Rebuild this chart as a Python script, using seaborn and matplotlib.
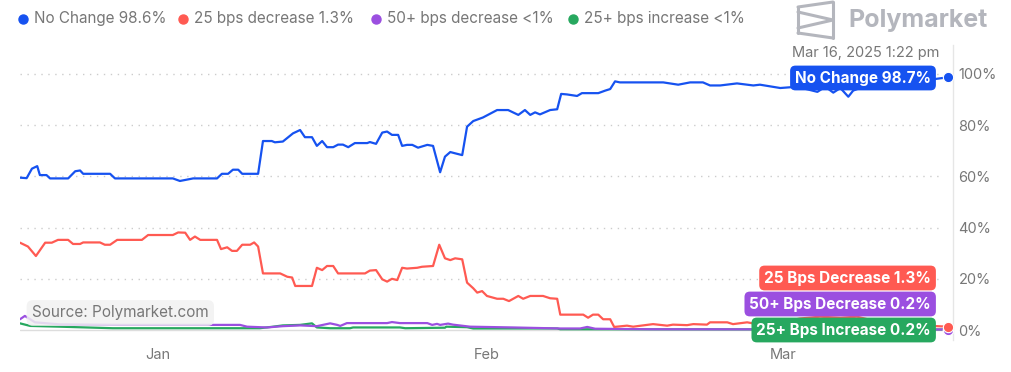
import pandas as pd
import numpy as np
import matplotlib
matplotlib.use('Agg')
import matplotlib.pyplot as plt
import matplotlib.dates as mdates
from matplotlib.lines import Line2D
import seaborn as sns

# --- данные ---
no_change_dates = [
    "2024-12-19 00:00", "2024-12-19 15:00", "2024-12-20 03:00", "2024-12-20 15:00", "2024-12-20 21:00",
    "2024-12-21 12:00", "2024-12-21 20:00", "2024-12-23 13:00", "2024-12-24 05:00", "2024-12-24 16:00",
    "2024-12-24 23:00", "2024-12-27 12:00", "2024-12-27 23:00", "2025-01-02 10:00", "2025-01-03 02:00",
    "2025-01-04 08:00", "2025-01-06 14:00", "2025-01-07 01:00", "2025-01-07 15:00", "2025-01-08 02:00",
    "2025-01-08 14:00", "2025-01-08 23:00", "2025-01-10 11:00", "2025-01-10 22:00", "2025-01-11 18:00",
    "2025-01-12 01:00", "2025-01-12 19:00", "2025-01-13 18:00", "2025-01-14 10:00", "2025-01-14 21:00",
    "2025-01-15 13:00", "2025-01-16 00:00", "2025-01-16 12:00", "2025-01-16 23:00", "2025-01-17 13:00",
    "2025-01-18 00:00", "2025-01-18 11:00", "2025-01-18 23:00", "2025-01-19 14:00", "2025-01-20 18:00",
    "2025-01-21 00:00", "2025-01-21 14:00", "2025-01-22 04:00", "2025-01-22 15:00", "2025-01-23 02:00",
    "2025-01-23 16:00", "2025-01-24 01:00", "2025-01-24 12:00", "2025-01-25 00:00", "2025-01-25 13:00",
    "2025-01-26 10:00", "2025-01-26 23:00", "2025-01-27 15:00", "2025-01-28 02:00", "2025-01-28 14:00",
    "2025-01-29 01:00", "2025-01-29 17:00", "2025-01-30 04:00", "2025-01-30 18:00", "2025-01-31 16:00",
    "2025-02-02 00:00", "2025-02-03 01:00", "2025-02-04 00:00", "2025-02-04 15:00", "2025-02-05 03:00",
    "2025-02-05 14:00", "2025-02-06 01:00", "2025-02-07 00:00", "2025-02-07 16:00", "2025-02-08 01:00",
    "2025-02-08 14:00", "2025-02-09 13:00", "2025-02-10 00:00", "2025-02-11 13:00", "2025-02-12 05:00",
    "2025-02-12 16:00", "2025-02-13 03:00", "2025-02-13 14:00", "2025-02-17 16:00", "2025-02-19 02:00",
    "2025-02-20 05:00", "2025-02-21 10:00", "2025-02-22 02:00", "2025-02-23 01:00", "2025-02-24 15:00",
    "2025-02-26 04:00", "2025-02-26 19:00", "2025-02-28 17:00", "2025-03-02 07:00", "2025-03-04 05:00",
    "2025-03-04 23:00", "2025-03-05 17:00", "2025-03-06 09:00", "2025-03-07 03:00", "2025-03-07 14:00",
    "2025-03-09 05:00", "2025-03-12 00:00", "2025-03-14 09:00", "2025-03-16 13:00",
]
no_change = [
    59.5, 59.3, 63.0, 64.0, 60.5, 60.5, 59.2, 59.2, 62.0, 62.3,
    61.0, 61.0, 59.2, 59.2, 58.2, 59.2, 59.2, 61.0, 61.0, 62.6,
    62.6, 61.0, 61.0, 73.8, 73.8, 73.3, 73.6, 76.8, 78.1, 75.3,
    75.3, 71.9, 73.8, 71.4, 71.4, 72.4, 72.4, 71.4, 73.0, 73.0,
    73.4, 72.7, 77.1, 77.5, 76.2, 76.2, 71.9, 72.3, 72.3, 71.2,
    72.3, 71.9, 61.6, 67.7, 69.5, 69.0, 68.3, 79.4, 81.6, 83.0,
    85.9, 85.9, 84.0, 85.9, 84.0, 85.0, 84.2, 85.9, 86.2, 92.2,
    92.0, 91.4, 92.5, 92.5, 93.5, 94.1, 97.1, 96.7, 96.7, 95.8,
    96.7, 96.7, 95.5, 95.5, 96.3, 95.5, 95.8, 94.5, 95.0, 93.0,
    95.0, 92.7, 94.5, 91.1, 93.5, 96.0, 97.0, 97.5, 98.7,
]

dec25_dates = [
    "2024-12-19 00:00", "2024-12-19 18:00", "2024-12-20 12:00", "2024-12-21 09:00", "2024-12-22 00:00",
    "2024-12-22 14:00", "2024-12-23 13:00", "2024-12-24 00:00", "2024-12-24 16:00", "2024-12-24 23:00",
    "2024-12-26 13:00", "2024-12-27 00:00", "2024-12-27 12:00", "2024-12-28 04:00", "2024-12-30 12:00",
    "2024-12-31 02:00", "2025-01-02 10:00", "2025-01-02 22:00", "2025-01-03 14:00", "2025-01-04 01:00",
    "2025-01-04 12:00", "2025-01-05 00:00", "2025-01-06 14:00", "2025-01-06 23:00", "2025-01-07 13:00",
    "2025-01-08 00:00", "2025-01-08 11:00", "2025-01-08 23:00", "2025-01-09 17:00", "2025-01-10 02:00",
    "2025-01-10 11:00", "2025-01-10 22:00", "2025-01-12 13:00", "2025-01-13 05:00", "2025-01-13 16:00",
    "2025-01-13 23:00", "2025-01-15 13:00", "2025-01-16 00:00", "2025-01-16 12:00", "2025-01-16 23:00",
    "2025-01-17 13:00", "2025-01-18 00:00", "2025-01-20 13:00", "2025-01-21 00:00", "2025-01-21 14:00",
    "2025-01-22 04:00", "2025-01-22 15:00", "2025-01-23 02:00", "2025-01-23 14:00", "2025-01-24 01:00",
    "2025-01-24 12:00", "2025-01-25 11:00", "2025-01-25 22:00", "2025-01-26 23:00", "2025-01-27 13:00",
    "2025-01-28 02:00", "2025-01-28 14:00", "2025-01-29 01:00", "2025-01-29 17:00", "2025-01-30 04:00",
    "2025-01-30 18:00", "2025-01-31 03:00", "2025-01-31 14:00", "2025-02-01 01:00", "2025-02-02 00:00",
    "2025-02-02 14:00", "2025-02-03 03:00", "2025-02-04 00:00", "2025-02-04 11:00", "2025-02-05 03:00",
    "2025-02-06 08:00", "2025-02-07 00:00", "2025-02-07 16:00", "2025-02-07 23:00", "2025-02-10 03:00",
    "2025-02-10 14:00", "2025-02-11 01:00", "2025-02-11 13:00", "2025-02-12 00:00", "2025-02-12 16:00",
    "2025-02-13 01:00", "2025-02-14 06:00", "2025-02-14 20:00", "2025-02-16 17:00", "2025-02-18 01:00",
    "2025-02-18 14:00", "2025-02-19 22:00", "2025-02-20 12:00", "2025-02-21 19:00", "2025-02-22 02:00",
    "2025-02-23 17:00", "2025-02-24 06:00", "2025-02-25 14:00", "2025-02-26 13:00", "2025-02-28 17:00",
    "2025-03-02 14:00", "2025-03-04 11:00", "2025-03-06 09:00", "2025-03-07 23:00", "2025-03-10 03:00",
    "2025-03-12 23:00", "2025-03-16 13:00",
]
dec25 = [
    34.1, 32.6, 28.9, 34.1, 34.1, 35.2, 35.2, 33.6, 33.6, 34.2,
    34.2, 33.3, 33.3, 35.2, 35.2, 37.1, 37.1, 38.1, 38.0, 35.2,
    36.5, 35.2, 35.2, 31.6, 32.3, 30.9, 30.9, 33.3, 33.3, 34.2,
    32.6, 22.1, 22.1, 20.8, 20.5, 17.2, 17.2, 24.3, 23.4, 25.0,
    25.0, 22.1, 22.1, 23.2, 23.4, 19.8, 18.9, 20.0, 19.5, 24.3,
    24.0, 24.3, 24.7, 25.0, 33.3, 28.0, 27.3, 28.0, 27.6, 18.5,
    16.3, 14.6, 15.2, 13.3, 12.2, 12.2, 11.3, 13.3, 12.2, 13.3,
    13.3, 12.4, 12.2, 6.0, 6.0, 4.8, 6.0, 6.0, 4.2, 4.2,
    1.2, 1.7, 1.3, 2.3, 1.7, 2.1, 1.9, 2.3, 2.1, 3.0,
    3.0, 2.3, 3.0, 2.3, 3.0, 4.5, 5.2, 4.8, 5.2, 3.0,
    2.0, 1.3,
]

dec50_dates = [
    "2024-12-19 00:00", "2024-12-19 11:00", "2024-12-20 10:00", "2024-12-22 18:00", "2024-12-28 10:00",
    "2025-01-03 02:00", "2025-01-08 18:00", "2025-01-09 10:00", "2025-01-11 07:00", "2025-01-12 19:00",
    "2025-01-14 10:00", "2025-01-16 00:00", "2025-01-17 06:00", "2025-01-17 22:00", "2025-01-18 05:00",
    "2025-01-18 20:00", "2025-01-22 15:00", "2025-01-23 02:00", "2025-01-23 20:00", "2025-01-26 10:00",
    "2025-01-26 21:00", "2025-01-27 08:00", "2025-01-27 15:00", "2025-01-28 09:00", "2025-01-28 20:00",
    "2025-01-30 11:00", "2025-02-03 12:00", "2025-02-07 23:00", "2025-02-09 20:00", "2025-02-10 12:00",
    "2025-02-11 06:00", "2025-02-16 10:00", "2025-03-16 13:00",
]
dec50 = [
    4.2, 5.5, 3.0, 2.2, 2.0, 2.0, 2.0, 1.3, 1.0, 1.5,
    1.8, 1.5, 2.6, 2.0, 1.6, 2.7, 2.7, 3.1, 2.7, 2.7,
    2.0, 2.4, 2.0, 2.5, 2.1, 1.3, 1.0, 0.6, 0.6, 1.2,
    0.5, 0.3, 0.2,
]

inc25_dates = [
    "2024-12-19 00:00", "2024-12-19 23:00", "2024-12-22 18:00", "2024-12-27 18:00", "2025-01-10 15:00",
    "2025-01-11 21:00", "2025-01-12 19:00", "2025-01-14 10:00", "2025-01-15 13:00", "2025-01-16 00:00",
    "2025-01-17 06:00", "2025-01-19 03:00", "2025-01-19 10:00", "2025-01-23 20:00", "2025-01-24 08:00",
    "2025-01-28 02:00", "2025-01-28 05:00", "2025-01-30 04:00", "2025-01-30 18:00", "2025-02-07 16:00",
    "2025-02-07 23:00", "2025-03-16 13:00",
]
inc25 = [
    2.6, 1.6, 1.3, 0.7, 0.7, 1.3, 1.8, 2.0, 2.6, 1.0,
    0.7, 0.7, 1.0, 1.0, 0.7, 0.9, 1.3, 1.1, 0.6, 0.6,
    0.3, 0.2,
]

legend_labels = ["No Change 98.6%", "25 bps decrease 1.3%",
                 "50+ bps decrease <1%", "25+ bps increase <1%"]
end_labels = ["No Change 98.7%", "25 Bps Decrease 1.3%",
              "50+ Bps Decrease 0.2%", "25+ Bps Increase 0.2%"]
month_ticks = ["2025-01-01", "2025-02-01", "2025-03-01"]
month_labels = ["Jan", "Feb", "Mar"]
y_ticks = [0, 20, 40, 60, 80, 100]

colors = ["#1652F0", "#FF5A52", "#9B4FE0", "#27A85F"]
GRAY = "#777777"

W, H = 1012, 372


def fx(px):
    return px / W


def fy(py):
    return 1 - py / H


sns.set_theme(style="white")
plt.rcParams['font.family'] = ['Inter', 'DejaVu Sans']

fig = plt.figure(figsize=(W / 100, H / 100), dpi=100)
ax = fig.add_axes([fx(20), fy(340), fx(933), 295 / H])

series = [
    (no_change_dates, no_change),
    (dec25_dates, dec25),
    (dec50_dates, dec50),
    (inc25_dates, inc25),
]

# рисуем снизу вверх, чтобы синяя линия была поверх
for (dates, vals), col in reversed(list(zip(series, colors))):
    df = pd.DataFrame({'date': pd.to_datetime(dates), 'p': vals})
    sns.lineplot(data=df, x='date', y='p', color=col, linewidth=1.6, ax=ax, zorder=3)
    ax.scatter(df['date'].iloc[-1], df['p'].iloc[-1], s=55, color=col,
               edgecolor='white', linewidth=0.8, zorder=6, clip_on=False)

start = pd.Timestamp("2024-12-19 00:00")
ax.set_xlim(start, start + pd.Timedelta(days=88.0))
ax.set_ylim(-3.9, 111.3)

# сетка
for v in y_ticks:
    if v == 0:
        ax.axhline(v, color='#dddddd', linewidth=1, zorder=1)
    else:
        ax.axhline(v, color='#cccccc', linewidth=1, linestyle=(0, (1, 4)), zorder=1,
                   xmax=0.985)

for s in ['top', 'left', 'bottom']:
    ax.spines[s].set_visible(False)
ax.spines['right'].set_color('#e6e6e6')
ax.spines['right'].set_linewidth(1)

ax.yaxis.tick_right()
ax.set_yticks(y_ticks)
ax.set_yticklabels([f"{v}%" for v in y_ticks])
ax.set_xticks(pd.to_datetime(month_ticks))
ax.set_xticklabels(month_labels)
ax.tick_params(axis='both', length=0, colors=GRAY, labelsize=10.5)
ax.tick_params(axis='y', pad=4)
ax.tick_params(axis='x', pad=6)
ax.set_xlabel('')
ax.set_ylabel('')

# легенда сверху
legend_x = [23, 183, 376, 573]
for lx, lab, col in zip(legend_x, legend_labels, colors):
    fig.add_artist(Line2D([fx(lx)], [fy(19)], marker='o', markersize=6.5,
                          color=col, linestyle='none'))
    fig.text(fx(lx + 11), fy(19), lab, color=GRAY, fontsize=11, va='center', ha='left')

# логотип Polymarket
logo_col = "#B4B6BD"
logo_segments = [
    ([798, 833], [7, 2]),
    ([833, 833], [2, 38]),
    ([833, 798], [38, 33]),
    ([798, 798], [7, 33]),
    ([798, 833, 798], [12, 20, 28]),
]
for xs, ys in logo_segments:
    fig.add_artist(Line2D([fx(v) for v in xs], [fy(v) for v in ys],
                          color=logo_col, linewidth=2.2, solid_capstyle='round'))
fig.text(fx(848), fy(20), "Polymarket", color=logo_col, fontsize=18,
         fontweight='bold', va='center', ha='left')

fig.text(fx(939), fy(53), "Mar 16, 2025 1:22 pm", color=GRAY, fontsize=10.5,
         va='center', ha='right')

# подписи справа
label_y = [78, 278, 304, 330]
for ly, lab, col in zip(label_y, end_labels, colors):
    fig.text(fx(931), fy(ly), lab, color='white', fontsize=11, fontweight='bold',
             va='center', ha='right', zorder=10,
             bbox=dict(boxstyle='round,pad=0.32,rounding_size=0.35', fc=col, ec='none'))

fig.text(fx(32), fy(313), "Source: Polymarket.com", color=GRAY, fontsize=11,
         va='center', ha='left', zorder=10,
         bbox=dict(boxstyle='round,pad=0.35,rounding_size=0.4', fc='#f1f1f1',
                   ec='none', alpha=0.85))

fig.savefig('out.png', dpi=100)
